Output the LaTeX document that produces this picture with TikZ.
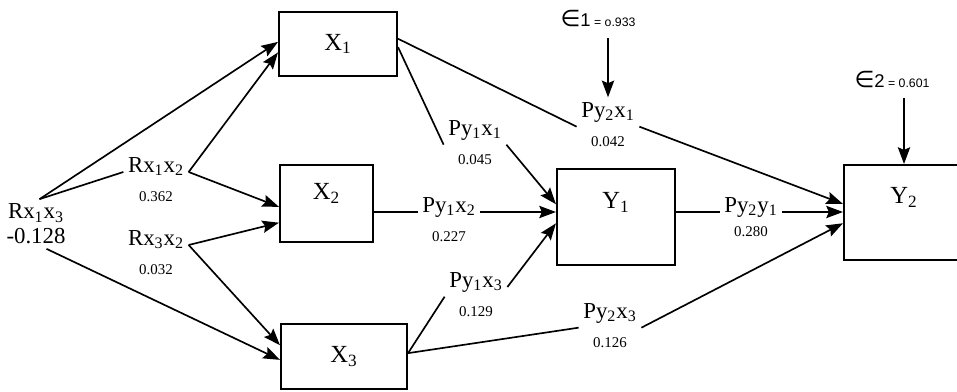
\documentclass[tikz,border=0pt]{standalone}
\usepackage{fontspec}
\setmainfont{Liberation Serif}
\setsansfont{Liberation Sans}
\newfontfamily\symfont{DejaVu Sans}
\usetikzlibrary{
  arrows.meta,
  positioning,
  calc
}
\tikzset{
  box/.style={draw,line width=1.2pt,inner sep=0pt,font=\fontsize{14}{16}\selectfont},
  intext/.style={inner sep=0pt,font=\fontsize{14}{16}\selectfont},
  lbl/.style={inner sep=2.5pt,anchor=base,font=\fontsize{13}{15}\selectfont},
  coef/.style={inner sep=1pt,anchor=base,font=\fontsize{8.5}{10}\selectfont},
  eps/.style={inner sep=2pt,anchor=base},
  link/.style={line width=0.95pt},
  arr/.style={link,-{Stealth[length=9.5pt,width=7pt,inset=1.5pt]}}
}
\newcommand{\ix}[1]{\textsubscript{#1}}
\newcommand{\pathcoef}[6][29]{%
  \node[lbl] (#2) at (#3,#4) {#5};%
  \node[coef] (#2v) at (#3,#4+#1) {#6};%
}
\newcommand{\epstext}[2]{%
  {\symfont\fontsize{13}{15}\selectfont ∈}{\sffamily\fontsize{10.5}{12}\selectfont #1\fontsize{7}{8}\selectfont{} = #2}%
}

\begin{document}
\begin{tikzpicture}[x=0.02cm,y=-0.02cm]
  \path[use as bounding box,clip] (0,0) rectangle (957,392);
  % variables
  \node[box,minimum width=2.36cm,minimum height=1.28cm] (x1) at (338,44) {X\ix1};
  \node[box,minimum width=1.86cm,minimum height=1.54cm,
    label={[intext,label distance=-0.79cm]north:X\ix2}] (x2) at (326.5,203.5) {};
  \node[box,minimum width=2.52cm,minimum height=1.30cm] (x3) at (344,356.5) {X\ix3};
  \node[box,minimum width=2.36cm,minimum height=1.92cm,
    label={[intext,label distance=-0.89cm]north:Y\ix1}] (y1) at (616,217) {};
  \node[box,minimum width=2.40cm,minimum height=1.90cm,
    label={[intext,label distance=-0.87cm]north:Y\ix2}] (y2) at (904,212.5) {};
  % coefficients
  \node[lbl,anchor=center,align=center,font=\fontsize{13}{14.2}\selectfont] (r13) at (36,224) {Rx\ix1x\ix3\\-0.128};
  \pathcoef{r12}{156}{172}{Rx\ix1x\ix2}{0.362}
  \pathcoef{r32}{156}{245}{Rx\ix3x\ix2}{0.032}
  \pathcoef{p11}{475}{135}{Py\ix1x\ix1}{0.045}
  \pathcoef{p21}{608}{117}{Py\ix2x\ix1}{0.042}
  \pathcoef{p12}{449}{212}{Py\ix1x\ix2}{0.227}
  \pathcoef{p13}{476}{287}{Py\ix1x\ix3}{0.129}
  \pathcoef{p23}{610}{318}{Py\ix2x\ix3}{0.126}
  \pathcoef[24]{p2y}{751}{212}{Py\ix2y\ix1}{0.280}
  \node[eps] (e1) at (598,27) {\epstext{1}{o.933}};
  \node[eps] (e2) at (892,87) {\epstext{2}{0.601}};
  % correlations
  \draw[arr] (r13.82) -- (x1.178);
  \draw[link] (r13.82) -- (r12.base west);
  \draw[arr] (r12.base east) -- (x1.188);
  \draw[arr] (r12.base east) -- (x2.184);
  \draw[arr] (r32.base east) -- (x2.202);
  \draw[arr] (r32.base east) -- (x3.170);
  \draw[arr] (r13.293) -- (x3.183);
  % paths
  \draw[link] (x1.5) -- (p21.south west);
  \draw[arr] (p21.south east) -- (y2.172);
  \draw[link] (x1.357) -- (p11.south west);
  \draw[arr] (p11.south east) -- (y1.168);
  \draw[link] (x2.east |- p12.base west) -- (p12.base west);
  \draw[arr] (p12.base east) -- (y1.west |- p12.base east);
  \draw[link] (x3.3) -- (p13.south west);
  \draw[arr] (p13.base east) -- (y1.186);
  \draw[link] (x3.3) -- (p23.south west);
  \draw[arr] (p23.south east) -- (y2.190);
  \draw[link] (y1.east |- p2y.base west) -- (p2y.base west);
  \draw[arr] (p2y.base east) -- (y2.west |- p2y.base east);
  % errors
  \draw[arr,shorten <=4pt] (p21.north |- e1.south) -- (p21.north);
  \draw[arr,shorten <=4pt] (y2.north |- e2.south) -- (y2.north);
\end{tikzpicture}
\end{document}
